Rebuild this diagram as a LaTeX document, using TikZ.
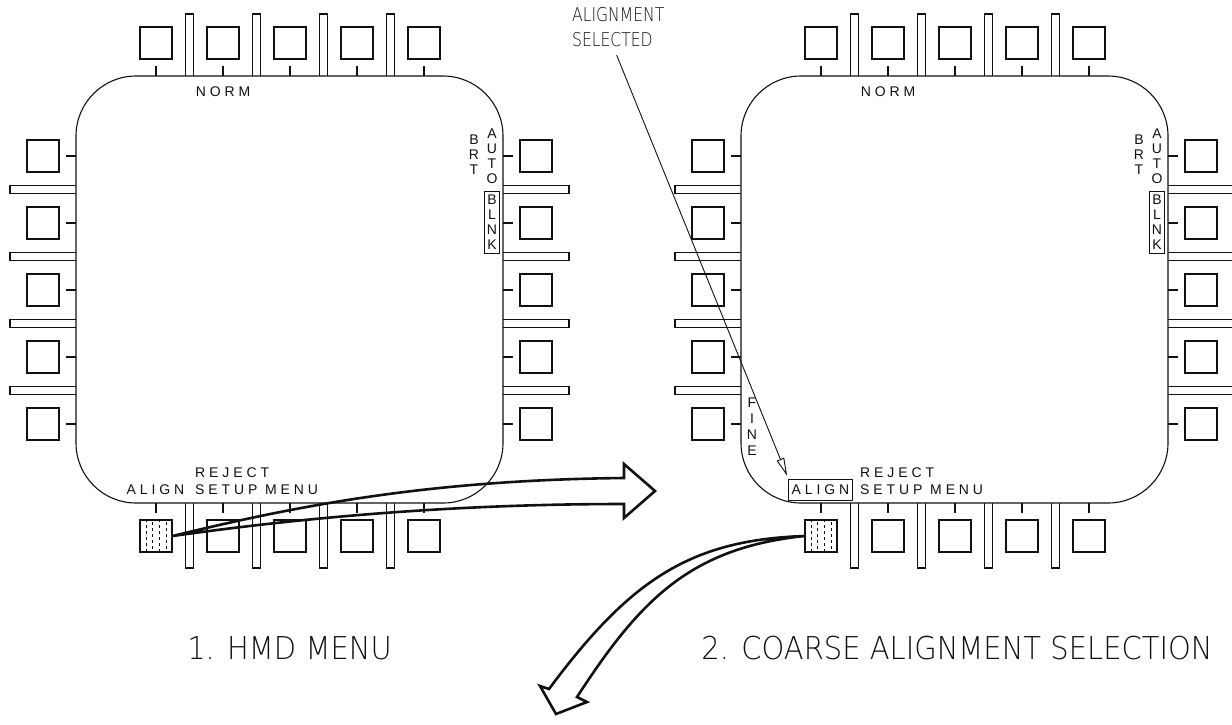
\documentclass[tikz,border=0pt]{standalone}
\usepackage{fontspec}
\setmainfont{Liberation Sans}
\IfFontExistsTF{DejaVu Sans ExtraLight}
	{\newfontfamily\titlefont[FakeStretch=0.92]{DejaVu Sans ExtraLight}
	 \newfontfamily\notefont[FakeStretch=0.82]{DejaVu Sans ExtraLight}}
	{\newfontfamily\titlefont[FakeStretch=0.92]{Liberation Sans}
	 \newfontfamily\notefont[FakeStretch=0.87]{Liberation Sans}}
\usetikzlibrary{arrows.meta}
\definecolor{panelink}{HTML}{111111}
\tikzset{
	keyline/.style={draw=panelink, line width=1.1pt},
	bezelline/.style={draw=panelink, line width=1.1pt, rounded corners=60pt},
	menulabel/.style={inner sep=0pt, text=panelink, font=\fontsize{14}{15}\selectfont},
	stacklabel/.style={menulabel, align=center},
	alignkey/.style={draw=panelink, line width=1.1pt, minimum size=32pt, inner sep=0pt},
	keydash/.style={panelink, line width=0.9pt, dash pattern=on 3pt off 3pt},
	bigarrow/.style={draw=panelink, line width=2.6pt, line join=miter},
	leader/.style={draw=panelink, line width=0.9pt, -{Triangle[open, length=18pt, width=8pt]}},
	titletext/.style={inner sep=0pt, text=panelink, font=\titlefont\fontsize{31.5}{38}\selectfont},
	notelabel/.style={inner sep=0pt, text=panelink, align=left, font=\notefont\fontsize{19}{25}\selectfont}
}
% One HMD display: #1 = x offset, #2 = name suffix, #3 = extra options of the ALIGN legend.
\newcommand{\hmdframe}[3]{%
	\begin{scope}[shift={(#1,0)}]
		% Display bezel.
		\draw[bezelline] (76,76) rectangle (503,503);
		% Square keys with their stubs (bottom left key is the shaded one).
		\foreach \i in {0,...,4} {
			\pgfmathsetmacro{\kc}{156+67*\i}
			\draw[keyline] (\kc-16,27) rectangle (\kc+16,59) (\kc,66) -- (\kc,76);
			\draw[keyline] (27,\kc-16) rectangle (59,\kc+16) (66,\kc) -- (76,\kc);
			\draw[keyline] (520,\kc-16) rectangle (552,\kc+16) (503,\kc) -- (513,\kc);
			\draw[keyline] (\kc,503) -- (\kc,513);
		}
		\foreach \i in {1,...,4} {
			\pgfmathsetmacro{\kc}{156+67*\i}
			\draw[keyline] (\kc-16,520) rectangle (\kc+16,552);
		}
		% Long bars between the keys.
		\foreach \i in {0,...,3} {
			\pgfmathsetmacro{\kb}{189.5+67*\i}
			\draw[keyline] (\kb-4,76) -- (\kb-4,14) -- (\kb+4,14) -- (\kb+4,76);
			\draw[keyline] (\kb-4,503) -- (\kb-4,568) -- (\kb+4,568) -- (\kb+4,503);
			\draw[keyline] (76,\kb-4) -- (10,\kb-4) -- (10,\kb+4) -- (76,\kb+4);
			\draw[keyline] (503,\kb-4) -- (569,\kb-4) -- (569,\kb+4) -- (503,\kb+4);
		}
		\node[alignkey] (alignkey#2) at (156,536) {};
		\foreach \dx/\ph in {-10/0,-3.3/3,3.3/0,10/3}
			\draw[keydash, dash phase=\ph pt] ([xshift=\dx pt]alignkey#2.north) -- ([xshift=\dx pt]alignkey#2.south);
		% Legends on the display.
		\node[menulabel] (norm#2) at (223,92) {N O R M};
		\node[stacklabel] (brt#2) at (474,155) {B\\R\\T};
		\node[stacklabel] (auto#2) at (492,156) {A\\U\\T\\O};
		\node[stacklabel, draw=panelink, line width=0.9pt, inner xsep=2.4pt, inner ysep=4pt] (blnk#2) at (492,222.5) {B\\L\\N\\K};
		\node[menulabel, anchor=west] (reject#2) at (195,473) {R E J E C T};
		\node[menulabel, anchor=west] (setup#2) at (195,490) {S E T U P};
		\node[menulabel, anchor=west] (menu#2) at (265,490) {M E N U};
		\node[menulabel, inner xsep=3pt, inner ysep=5.5pt, #3] (align#2) at (155.5,489.5) {A L I G N};
	\end{scope}}

\begin{document}
\begin{tikzpicture}[x=1pt,y=-1pt]
	% Fixed white canvas.
	\path[use as bounding box] (0,0) rectangle (1232,724);
	\fill[white] (0,0) rectangle (1232,724);

	% The two display states.
	\hmdframe{0}{L}{}
	\hmdframe{665}{R}{draw=panelink, line width=0.9pt}
	\node[stacklabel, font=\fontsize{14}{16}\selectfont] (fineR) at (752,427) {F\\I\\N\\E};

	% Captions.
	\node[titletext] (titleL) at (289.5,648.5) {1. HMD MENU};
	\node[titletext] (titleR) at (957,648.5) {2. COARSE ALIGNMENT SELECTION};

	% Callout for the selected legend.
	\node[notelabel, anchor=north west] (alignsel) at (572,7) {ALIGNMENT\\SELECTED};
	\draw[leader, shorten <=9pt, shorten >=3pt] ([xshift=-5pt]alignsel.south) -- (alignR.north west);

	% Hollow arrows: pressing the shaded key.
	\coordinate (nextpanel) at (655,491);
	\coordinate (nextstep) at (556,714);
	\draw[bigarrow] (alignkeyL.east) .. controls (300,505) and (430,480) .. ([shift={(-31,-13)}]nextpanel)
		-- ++(0,-14) -- (nextpanel) -- ++(-31,27) -- ++(0,-14)
		.. controls (450,504) and (300,518) .. (alignkeyL.east);
	\draw[bigarrow] (alignkeyR.west) .. controls (690,540) and (630,580) .. ([shift={(-7,-25)}]nextstep)
		-- ++(-9,-3) -- (nextstep) -- ++(31,-12) -- ++(-10,-5)
		.. controls (640,600) and (690,548) .. (alignkeyR.west);
\end{tikzpicture}
\end{document}
